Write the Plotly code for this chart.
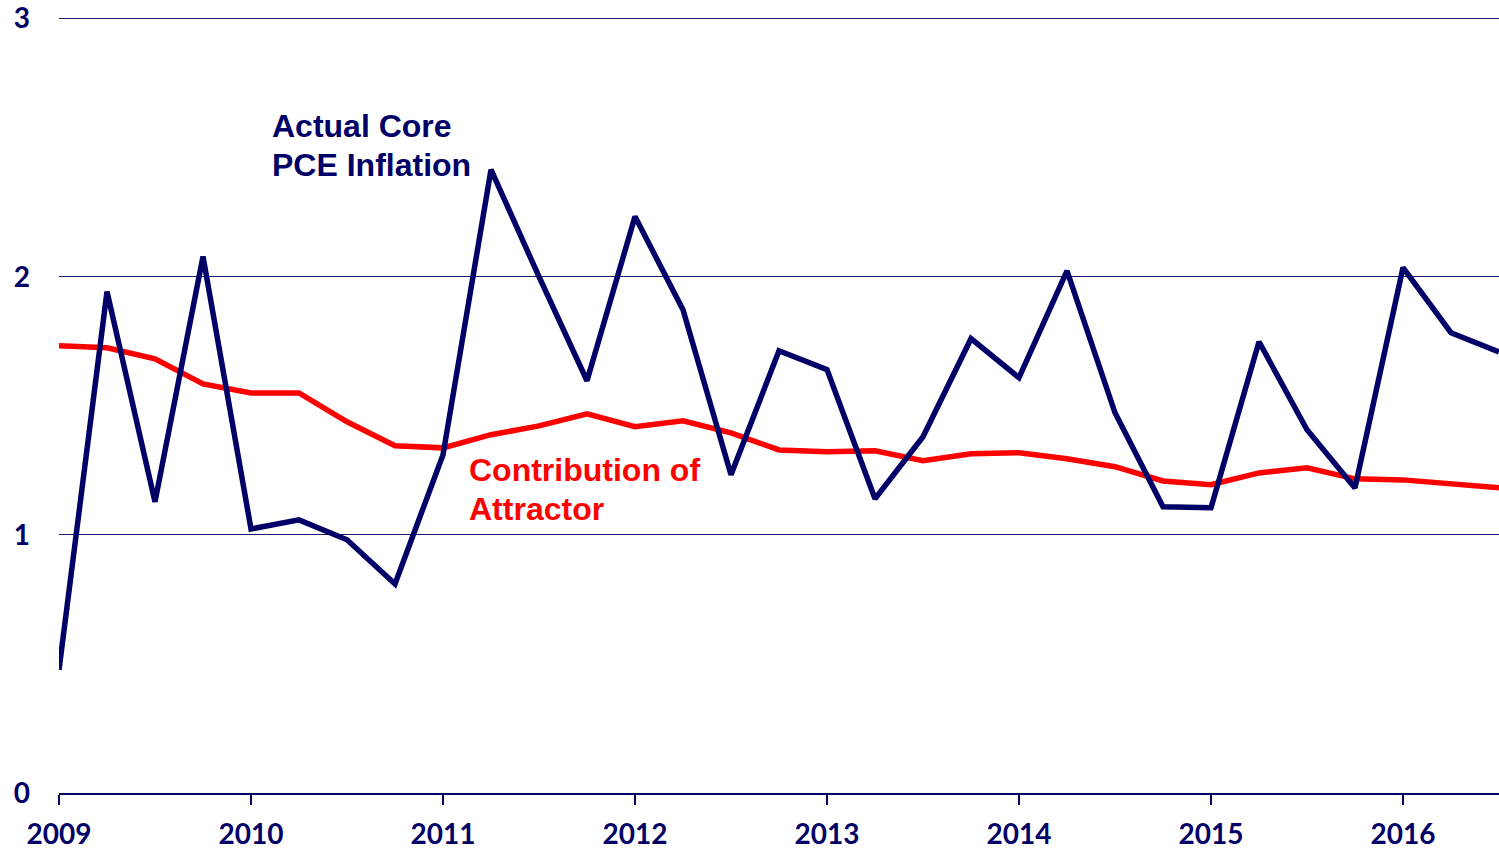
import plotly.graph_objects as go

quarters = [2009 + 0.25 * i for i in range(31)]

core_pce = [0.477, 1.942, 1.128, 2.078, 1.023, 1.058, 0.981, 0.810, 1.310, 2.415,
            2.000, 1.597, 2.233, 1.872, 1.233, 1.713, 1.640, 1.140, 1.380, 1.760,
            1.609, 2.023, 1.473, 1.109, 1.105, 1.748, 1.407, 1.182, 2.035, 1.783,
            1.709]

attractor = [1.733, 1.725, 1.682, 1.585, 1.550, 1.550, 1.438, 1.345, 1.337, 1.388,
             1.422, 1.469, 1.419, 1.442, 1.395, 1.329, 1.322, 1.326, 1.287, 1.314,
             1.318, 1.295, 1.264, 1.209, 1.194, 1.240, 1.260, 1.217, 1.213, 1.198,
             1.182]

year_ticks = [2009, 2010, 2011, 2012, 2013, 2014, 2015, 2016]
y_ticks = [0, 1, 2, 3]

NAVY = "#000066"
GRID = "#1a1a6e"
RED = "#ff0000"

fig = go.Figure()
fig.add_trace(go.Scatter(x=quarters, y=attractor, mode="lines",
                         line=dict(color=RED, width=5.5), showlegend=False))
fig.add_trace(go.Scatter(x=quarters, y=core_pce, mode="lines",
                         line=dict(color=NAVY, width=5.5), showlegend=False))

labels = [
    ("Actual Core", 2010.1, 2.585, NAVY),
    ("PCE Inflation", 2010.1, 2.434, NAVY),
    ("Contribution of", 2011.125, 1.252, RED),
    ("Attractor", 2011.125, 1.101, RED),
]
for txt, lx, ly, col in labels:
    fig.add_annotation(x=lx, y=ly, xref="x", yref="y", text=txt, showarrow=False,
                       xanchor="left", yanchor="middle", align="left",
                       font=dict(family="Liberation Sans", size=32, color=col, weight="bold"))

fig.update_layout(
    width=1499, height=849,
    margin=dict(l=59, r=0, t=16, b=56, autoexpand=False),
    plot_bgcolor="white", paper_bgcolor="white",
    xaxis=dict(range=[2009, 2016.5], tickvals=year_ticks,
               ticktext=[str(y) for y in year_ticks],
               showgrid=False, zeroline=False, automargin=False,
               showline=True, linecolor=NAVY, linewidth=1.5,
               ticks="outside", ticklen=10, tickwidth=1.5, tickcolor=NAVY,
               ticklabelstandoff=6,
               tickfont=dict(family="Lato", size=28, color=NAVY, weight="bold")),
    yaxis=dict(range=[0, 3.01], tickvals=y_ticks, automargin=False,
               showgrid=True, gridcolor=GRID, gridwidth=1.2,
               zeroline=False, showline=False, ticks="",
               ticklabelstandoff=28,
               tickfont=dict(family="Lato", size=28, color=NAVY, weight="bold")),
)

fig.write_html("out.html", config={"displayModeBar": False},
               post_script="document.body.style.margin='0';document.body.style.overflow='hidden';")
